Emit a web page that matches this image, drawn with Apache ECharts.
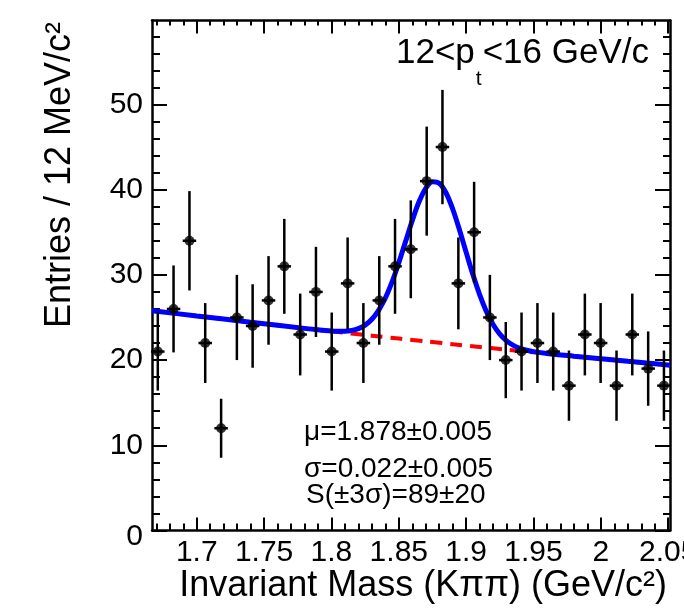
<!DOCTYPE html>
<html><head><meta charset="utf-8">
<script src="https://cdn.jsdelivr.net/npm/echarts@6/dist/echarts.min.js"></script>
<style>html,body{margin:0;padding:0;background:#fff}#c{width:684px;height:613px}</style>
</head><body><div id="c"></div>
<script>
// ---- data ----
const binCenters = [1.6711, 1.6828, 1.6946, 1.7063, 1.7181, 1.7298, 1.7415, 1.7533, 1.7650, 1.7768, 1.7885,
  1.8002, 1.8120, 1.8237, 1.8355, 1.8472, 1.8589, 1.8707, 1.8824, 1.8942, 1.9059, 1.9176,
  1.9294, 1.9411, 1.9529, 1.9646, 1.9763, 1.9881, 1.9998, 2.0116, 2.0233, 2.0351, 2.0468];
const counts = [21, 26, 34, 22, 12, 25, 24, 27, 31, 23, 28,
  21, 29, 22, 27, 31, 33, 41, 45, 29, 35, 25,
  20, 21, 22, 21, 17, 23, 22, 17, 23, 19, 17];
const errors = [4.58, 5.10, 5.83, 4.69, 3.46, 5.00, 4.90, 5.20, 5.57, 4.80, 5.29,
  4.58, 5.39, 4.69, 5.20, 5.57, 5.74, 6.40, 6.71, 5.39, 5.92, 5.00,
  4.47, 4.58, 4.69, 4.58, 4.12, 4.80, 4.69, 4.12, 4.80, 4.36, 4.12];
const fitX = [1.6668, 1.70, 1.74, 1.78, 1.79, 1.80, 1.805, 1.81, 1.815, 1.82, 1.825, 1.83, 1.835, 1.84, 1.845,
  1.85, 1.855, 1.86, 1.865, 1.87, 1.875, 1.88, 1.885, 1.89, 1.895, 1.90, 1.905, 1.91, 1.915, 1.92,
  1.925, 1.93, 1.935, 1.94, 1.945, 1.95, 1.96, 1.98, 2.00, 2.02, 2.04, 2.0513];
const fitY = [25.80, 25.18, 24.44, 23.72, 23.55, 23.41, 23.38, 23.38, 23.47, 23.69, 24.10, 24.79, 25.84, 27.28, 29.17,
  31.42, 33.90, 36.38, 38.57, 40.16, 40.93, 40.75, 39.64, 37.73, 35.30, 32.64, 30.03, 27.68, 25.71, 24.18,
  23.05, 22.26, 21.73, 21.38, 21.15, 20.99, 20.77, 20.45, 20.15, 19.85, 19.56, 19.40];
const bkgX = [1.6668, 1.70, 1.74, 1.78, 1.80, 1.82, 1.84, 1.86, 1.88, 1.90, 1.92, 1.94, 1.96, 1.98, 2.00, 2.02, 2.04, 2.0513];
const bkgY = [25.80, 25.18, 24.44, 23.72, 23.37, 23.03, 22.69, 22.36, 22.03, 21.70, 21.38, 21.07, 20.76, 20.45, 20.15, 19.85, 19.56, 19.40];
const xMajorTicks = [1.7, 1.75, 1.8, 1.85, 1.9, 1.95, 2, 2.05];
const xMinorTicks = [1.67, 1.68, 1.69, 1.71, 1.72, 1.73, 1.74, 1.76, 1.77, 1.78, 1.79, 1.81, 1.82, 1.83, 1.84,
  1.86, 1.87, 1.88, 1.89, 1.91, 1.92, 1.93, 1.94, 1.96, 1.97, 1.98, 1.99, 2.01, 2.02, 2.03, 2.04];
const yMajorTicks = [0, 10, 20, 30, 40, 50];
const yMinorTicks = [2, 4, 6, 8, 12, 14, 16, 18, 22, 24, 26, 28, 32, 34, 36, 38, 42, 44, 46, 48, 52, 54, 56, 58];
const statLines = ['\u03bc=1.878\u00b10.005', '\u03c3=0.022\u00b10.005', 'S(\u00b13\u03c3)=89\u00b120'];
const ptLabelMain = '12<p';
const ptLabelSub = 't';
const ptLabelEnd = '<16 GeV/c';
const xTitle = 'Invariant Mass (K\u03c0\u03c0) (GeV/c\u00b2)';
const yTitle = 'Entries / 12 MeV/c\u00b2';

// ---- layout / style ----
const FONT = '"Liberation Sans", Arial, Helvetica, sans-serif';
const X_MIN = 1.6668, X_MAX = 2.0513, Y_MIN = 0, Y_MAX = 59.85;
const HALF_BIN = 0.005;
const TICK_FONT = 30, TITLE_FONT = 36, STAT_FONT = 28, PT_FONT = 35, PT_SUB_FONT = 21;

const ctx = document.createElement('canvas').getContext('2d');
function tw(t, size) { ctx.font = size + 'px "Liberation Sans"'; return ctx.measureText(t).width; }

const chart = echarts.init(document.getElementById('c'), null, {renderer: 'canvas'});

function xAxisDef(pos, ticks, len, showLine, labels) {
  return {
    type: 'value', min: X_MIN, max: X_MAX, position: pos, gridIndex: 0,
    axisLine: {show: showLine, onZero: false, lineStyle: {color: '#000', width: 2.5}},
    axisTick: {show: true, inside: true, length: len, customValues: ticks, lineStyle: {color: '#000', width: 2}},
    axisLabel: labels ? {show: true, customValues: ticks, fontSize: TICK_FONT, color: '#000', fontFamily: FONT, margin: 7,
      hideOverlap: false, formatter: v => String(+(+v).toFixed(2))} : {show: false},
    splitLine: {show: false}
  };
}
function yAxisDef(pos, ticks, len, showLine, labels) {
  return {
    type: 'value', min: Y_MIN, max: Y_MAX, position: pos, gridIndex: 0,
    axisLine: {show: showLine, onZero: false, lineStyle: {color: '#000', width: 2.5}},
    axisTick: {show: true, inside: true, length: len, customValues: ticks, lineStyle: {color: '#000', width: 2}},
    axisLabel: labels ? {show: true, customValues: ticks, fontSize: TICK_FONT, color: '#000', fontFamily: FONT, margin: 9,
      formatter: v => (+v === 0 ? '{z|0}' : String(v)),
      rich: {z: {fontSize: TICK_FONT, fontFamily: FONT, color: '#000', padding: [12, 0, 0, 0]}}} : {show: false},
    splitLine: {show: false}
  };
}

const w1 = tw(ptLabelMain, PT_FONT), wsub = tw(ptLabelSub, PT_SUB_FONT);
const ptX = 396;

const option = {
  animation: false,
  backgroundColor: '#fff',
  grid: {left: 152, right: 14, top: 20.5, bottom: 82.5, show: false, containLabel: false, outerBoundsMode: 'none'},
  xAxis: [
    xAxisDef('bottom', xMajorTicks, 13, true, true),
    xAxisDef('bottom', xMinorTicks, 7, false, false),
    xAxisDef('top', xMajorTicks, 13, true, false),
    xAxisDef('top', xMinorTicks, 5, false, false)
  ],
  yAxis: [
    yAxisDef('left', yMajorTicks, 15, true, true),
    yAxisDef('left', yMinorTicks, 8, false, false),
    yAxisDef('right', yMajorTicks, 15, true, false),
    yAxisDef('right', yMinorTicks, 7, false, false)
  ],
  series: [
    {
      type: 'line', name: 'background', xAxisIndex: 0, yAxisIndex: 0,
      data: bkgX.map((x, i) => [x, bkgY[i]]), smooth: true, showSymbol: false, z: 2,
      lineStyle: {color: '#ff0000', width: 4, type: [12, 8]}
    },
    {
      type: 'line', name: 'fit', xAxisIndex: 0, yAxisIndex: 0,
      data: fitX.map((x, i) => [x, fitY[i]]), smooth: 0.35, showSymbol: false, z: 3,
      lineStyle: {color: '#0000ff', width: 5}
    },
    {
      type: 'custom', name: 'errors', xAxisIndex: 0, yAxisIndex: 0, z: 4,
      data: binCenters.map((x, i) => [x, counts[i], errors[i]]),
      encode: {x: 0, y: 1},
      renderItem: function (params, api) {
        const x = api.value(0), y = api.value(1), e = api.value(2);
        const t = api.coord([x, y + e]), b = api.coord([x, y - e]);
        const l = api.coord([x - HALF_BIN, y]), r = api.coord([x + HALF_BIN, y]);
        return {type: 'group', children: [
          {type: 'line', shape: {x1: t[0], y1: t[1], x2: b[0], y2: b[1]}, style: {stroke: '#000', lineWidth: 2.5}},
          {type: 'line', shape: {x1: l[0], y1: l[1], x2: r[0], y2: r[1]}, style: {stroke: '#000', lineWidth: 2.5}}
        ]};
      }
    },
    {
      type: 'scatter', name: 'data', xAxisIndex: 0, yAxisIndex: 0, z: 5,
      data: binCenters.map((x, i) => [x, counts[i]]),
      symbol: 'circle', symbolSize: 10, itemStyle: {color: '#000'}
    }
  ],
  graphic: [
    {type: 'text', x: ptX, y: 53, style: {text: ptLabelMain, font: PT_FONT + 'px ' + FONT, fill: '#000', textAlign: 'left', textVerticalAlign: 'middle'}},
    {type: 'text', x: ptX + w1 + 1, y: 79, style: {text: ptLabelSub, font: PT_SUB_FONT + 'px ' + FONT, fill: '#000', textAlign: 'left', textVerticalAlign: 'middle'}},
    {type: 'text', x: ptX + w1 + wsub + 2, y: 53, style: {text: ptLabelEnd, font: PT_FONT + 'px ' + FONT, fill: '#000', textAlign: 'left', textVerticalAlign: 'middle'}},
    {type: 'text', x: 304, y: 432, style: {text: statLines[0], font: STAT_FONT + 'px ' + FONT, fill: '#000', textAlign: 'left', textVerticalAlign: 'middle'}},
    {type: 'text', x: 304, y: 469, style: {text: statLines[1], font: STAT_FONT + 'px ' + FONT, fill: '#000', textAlign: 'left', textVerticalAlign: 'middle'}},
    {type: 'text', x: 306, y: 495, style: {text: statLines[2], font: STAT_FONT + 'px ' + FONT, fill: '#000', textAlign: 'left', textVerticalAlign: 'middle'}},
    {type: 'text', x: 667, y: 586, style: {text: xTitle, font: TITLE_FONT + 'px ' + FONT, fill: '#000', textAlign: 'right', textVerticalAlign: 'middle'}},
    {type: 'text', x: 60, y: 22, rotation: Math.PI / 2, style: {text: yTitle, font: TITLE_FONT + 'px ' + FONT, fill: '#000', textAlign: 'right', textVerticalAlign: 'middle'}}
  ]
};
chart.setOption(option);
</script>
</body></html>
